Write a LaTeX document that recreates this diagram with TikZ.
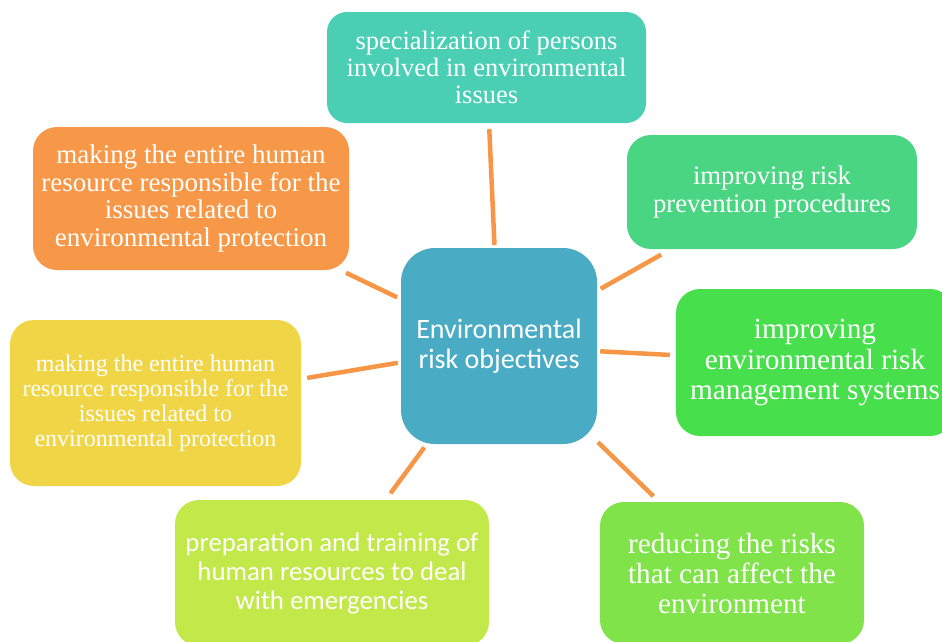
\documentclass[tikz,border=0pt]{standalone}
\usepackage{fontspec}
\setmainfont{Liberation Serif}
\newfontfamily\carlito{Carlito}
\definecolor{tealbox}{HTML}{4ACFB5}
\definecolor{orangebox}{HTML}{F79848}
\definecolor{mintbox}{HTML}{4AD583}
\definecolor{greenbox}{HTML}{48DF4C}
\definecolor{bluebox}{HTML}{4AABC5}
\definecolor{yellowbox}{HTML}{F0D546}
\definecolor{limebox}{HTML}{C2E84A}
\definecolor{leafbox}{HTML}{80E34A}
\definecolor{linkorange}{HTML}{F79646}
\begin{document}
\begin{tikzpicture}[x=1pt,y=-1pt,
  box/.style={rectangle, rounded corners=24pt, draw=none, text=white,
    align=center, inner sep=0pt},
  link/.style={draw=linkorange, line width=4.5pt}]
\useasboundingbox (0,0) rectangle (942,641);
\begin{scope}
\clip (0,0) rectangle (942,641);
% central topic
\node[box, rounded corners=34pt, fill=bluebox, minimum width=196pt, minimum height=196pt,
  font=\carlito\fontsize{28}{30}\selectfont] (ctr) at (499,346)
  {Environmental\\risk objectives};
% surrounding objectives
\node[box, rounded corners=20pt, fill=tealbox, minimum width=319pt, minimum height=111pt,
  font=\fontsize{26.5}{27}\selectfont] (spec) at (486.5,67.5)
  {specialization of persons\\involved in environmental\\issues};
\node[box, fill=orangebox, minimum width=316pt, minimum height=143pt,
  font=\fontsize{27}{27.5}\selectfont] (respa) at (191,198.5)
  {making the entire human\\resource responsible for the\\issues related to\\environmental protection};
\node[box, fill=mintbox, minimum width=290pt, minimum height=114pt,
  font=\fontsize{26.7}{28}\selectfont] (prev) at (772,192)
  {improving risk\\prevention procedures};
\node[box, fill=greenbox, minimum width=278pt, minimum height=147pt,
  font=\fontsize{29.3}{30.5}\selectfont] (mgmt) at (815,362.5)
  {improving\\environmental risk\\management systems};
\node[box, fill=yellowbox, minimum width=291pt, minimum height=166pt,
  font=\fontsize{24}{25}\selectfont] (respb) at (155.5,403)
  {making the entire human\\resource responsible for the\\issues related to\\environmental protection};
\node[box, fill=limebox, minimum width=314pt, minimum height=146pt,
  font=\carlito\fontsize{26.8}{29}\selectfont] (prep) at (332,573)
  {preparation and training of\\human resources to deal\\with emergencies};
\node[box, fill=leafbox, minimum width=264pt, minimum height=142pt,
  font=\fontsize{29.2}{30}\selectfont] (reduce) at (732,573)
  {reducing the risks\\that can affect the\\environment};
\end{scope}
% spokes
\draw[link, shorten <=3pt, shorten >=6pt] (ctr) -- (spec);
\draw[link, shorten <=4pt, shorten >=6pt] (ctr) -- (respa);
\draw[link, shorten <=4pt, shorten >=11pt] (ctr) -- (prev);
\draw[link, shorten <=3pt, shorten >=6pt] (ctr) -- (mgmt);
\draw[link, shorten <=3pt, shorten >=6pt] (ctr) -- (respb);
\draw[link, shorten <=4pt, shorten >=8pt] (ctr) -- (prep);
\draw[link, shorten <=1pt, shorten >=8pt] (ctr) -- (reduce);
\end{tikzpicture}
\end{document}
